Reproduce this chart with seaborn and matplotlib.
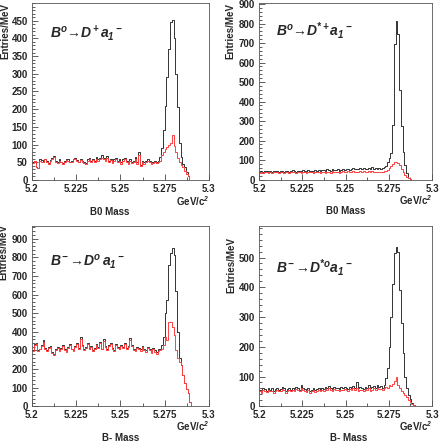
import numpy as np
import pandas as pd
import seaborn as sns
import matplotlib.pyplot as plt
from matplotlib.ticker import MultipleLocator, FixedLocator

# bins: 100 bins of 1 MeV from 5.200 to 5.300 GeV/c^2
bin_lo = 5.2
bin_hi = 5.3
n_bins = 100

# B0 -> D+ a1-
d_plus_all = [50, 55, 36, 34, 58, 56, 52, 60, 55, 48,
              57, 62, 68, 55, 50, 58, 52, 47, 55, 60,
              58, 52, 55, 60, 63, 57, 52, 60, 55, 50,
              48, 58, 62, 55, 60, 53, 65, 58, 62, 70,
              62, 58, 68, 55, 60, 52, 58, 62, 55, 60,
              50, 58, 62, 55, 48, 60, 52, 55, 65, 50,
              78, 42, 55, 50, 55, 60, 55, 50, 52, 55,
              52, 55, 65, 90, 140, 210, 290, 370, 445, 452,
              400, 300, 205, 105, 66, 45, 38, 22, 12, 0,
              0, 0, 0, 0, 0, 0, 0, 0, 0, 0]
d_plus_sel = [48, 55, 36, 34, 55, 52, 50, 58, 52, 45,
              55, 58, 65, 52, 48, 55, 50, 45, 52, 56,
              55, 50, 52, 58, 60, 55, 50, 57, 52, 48,
              45, 55, 58, 52, 56, 50, 60, 55, 58, 63,
              58, 55, 62, 52, 56, 48, 55, 58, 52, 55,
              46, 54, 58, 52, 45, 55, 48, 50, 58, 45,
              70, 40, 50, 46, 50, 55, 50, 46, 48, 50,
              48, 50, 55, 70, 80, 88, 94, 99, 105, 127,
              95, 80, 62, 52, 42, 36, 26, 18, 10, 0,
              0, 0, 0, 0, 0, 0, 0, 0, 0, 0]

# B0 -> D*+ a1-
dst_plus_all = [42, 45, 38, 44, 46, 40, 43, 38, 45, 42,
                46, 40, 44, 42, 38, 46, 42, 40, 45, 47,
                42, 40, 46, 44, 42, 48, 44, 42, 47, 44,
                46, 43, 50, 45, 48, 42, 50, 47, 45, 52,
                48, 45, 54, 50, 47, 52, 45, 50, 54, 48,
                52, 56, 50, 54, 58, 52, 56, 53, 58, 52,
                58, 54, 56, 60, 54, 62, 56, 58, 54, 58,
                56, 60, 64, 70, 90, 110, 135, 280, 695, 815,
                745, 460, 272, 140, 75, 35, 10, 3, 0, 0,
                0, 0, 0, 0, 0, 0, 0, 0, 0, 0]
dst_plus_sel = [35, 38, 32, 38, 40, 35, 36, 33, 38, 36,
                40, 34, 38, 36, 32, 40, 36, 34, 38, 40,
                36, 34, 38, 37, 35, 40, 36, 35, 38, 36,
                38, 35, 40, 36, 38, 34, 40, 37, 35, 40,
                38, 35, 42, 38, 36, 40, 35, 38, 42, 37,
                40, 42, 37, 40, 44, 38, 41, 39, 43, 37,
                42, 38, 40, 43, 37, 44, 39, 41, 36, 40,
                38, 40, 42, 45, 50, 58, 68, 80, 88, 90,
                85, 75, 55, 38, 25, 15, 8, 3, 0, 0,
                0, 0, 0, 0, 0, 0, 0, 0, 0, 0]

# B- -> D0 a1-
d0_all = [300, 335, 340, 300, 310, 330, 355, 315, 300, 320,
          325, 290, 280, 310, 320, 300, 315, 330, 305, 295,
          320, 335, 310, 300, 325, 340, 315, 370, 330, 305,
          320, 340, 310, 325, 300, 315, 335, 320, 345, 310,
          360, 325, 305, 330, 340, 315, 300, 335, 320, 310,
          330, 320, 340, 315, 325, 365, 330, 310, 300, 320,
          315, 305, 325, 310, 300, 320, 310, 295, 315, 300,
          290, 305, 310, 330, 370, 500, 570, 760, 825, 850,
          810, 620, 400, 260, 220, 170, 125, 95, 70, 25,
          0, 0, 0, 0, 0, 0, 0, 0, 0, 0]
d0_sel = [295, 330, 335, 295, 305, 322, 345, 310, 295, 312,
          318, 285, 278, 302, 315, 295, 308, 322, 300, 290,
          312, 328, 305, 295, 318, 332, 310, 360, 322, 300,
          312, 332, 305, 318, 295, 310, 328, 312, 338, 305,
          350, 318, 300, 322, 332, 308, 295, 328, 312, 305,
          322, 312, 332, 308, 318, 355, 322, 302, 295, 312,
          308, 298, 318, 302, 292, 312, 302, 288, 305, 292,
          282, 295, 300, 310, 330, 370, 355, 450, 455, 425,
          385, 300, 260, 240, 220, 170, 125, 95, 70, 25,
          0, 0, 0, 0, 0, 0, 0, 0, 0, 0]

# B- -> D*0 a1-
dst0_all = [55, 50, 60, 58, 52, 62, 55, 60, 52, 58,
            62, 55, 58, 65, 60, 52, 58, 62, 55, 60,
            58, 65, 60, 55, 70, 62, 58, 55, 60, 52,
            56, 60, 55, 58, 62, 55, 60, 58, 65, 60,
            68, 62, 58, 65, 60, 62, 58, 64, 60, 66,
            62, 58, 65, 60, 68, 62, 80, 60, 65, 62,
            58, 66, 62, 70, 60, 65, 68, 62, 70, 65,
            68, 62, 72, 95, 130, 200, 300, 410, 515, 535,
            520, 390, 280, 180, 100, 60, 38, 25, 12, 5,
            0, 0, 0, 0, 0, 0, 0, 0, 0, 0]
dst0_sel = [50, 45, 55, 52, 48, 55, 50, 52, 46, 52,
            55, 50, 52, 58, 54, 46, 52, 55, 50, 54,
            52, 58, 54, 50, 62, 55, 52, 48, 54, 46,
            50, 54, 48, 52, 55, 50, 54, 52, 58, 54,
            60, 55, 52, 58, 54, 55, 52, 56, 54, 58,
            55, 52, 58, 54, 60, 55, 62, 52, 56, 54,
            52, 58, 55, 60, 52, 56, 60, 55, 62, 58,
            58, 55, 60, 65, 62, 70, 68, 75, 85, 100,
            72, 62, 52, 45, 38, 30, 22, 15, 8, 3,
            0, 0, 0, 0, 0, 0, 0, 0, 0, 0]

titles = [r"$\mathbf{B^o}$" + "\u2192" + r"$\mathbf{D^+a_1{}^-}$",
          r"$\mathbf{B^o}$" + "\u2192" + r"$\mathbf{D^{*+}a_1{}^-}$",
          r"$\mathbf{B^-}$" + "\u2192" + r"$\mathbf{D^o\,a_1{}^-}$",
          r"$\mathbf{B^-}$" + "\u2192" + r"$\mathbf{D^{*o}a_1{}^-}$"]
mass_labels = ["B0 Mass", "B0 Mass", "B- Mass", "B- Mass"]
x_ticks = [5.2, 5.225, 5.25, 5.275, 5.3]
x_tick_labels = ["5.2", "5.225", "5.25", "5.275", "5.3"]
y_tops = [500, 905, 968, 606]
y_steps = [50, 100, 100, 100]
y_label_max = [450, 900, 900, 500]

centers = bin_lo + (np.arange(n_bins) + 0.5) * (bin_hi - bin_lo) / n_bins

sns.set_style("ticks")
plt.rcParams['font.family'] = ['Liberation Sans', 'DejaVu Sans']
plt.rcParams['font.weight'] = 'bold'
plt.rcParams['mathtext.fontset'] = 'custom'
plt.rcParams['mathtext.bf'] = 'Liberation Sans:italic:bold'
plt.rcParams['mathtext.rm'] = 'Liberation Sans:italic:bold'
plt.rcParams['mathtext.it'] = 'Liberation Sans:italic:bold'

fig = plt.figure(figsize=(4.43, 4.45), dpi=100)
boxes = [[0.0722, 0.5955, 0.3995, 0.3978],
         [0.5847, 0.5966, 0.3905, 0.3966],
         [0.0722, 0.0870, 0.3995, 0.4052],
         [0.5847, 0.0870, 0.3905, 0.4052]]
series = [(d_plus_all, d_plus_sel), (dst_plus_all, dst_plus_sel),
          (d0_all, d0_sel), (dst0_all, dst0_sel)]
# text placement per panel (axes coords)
title_pos = [(0.10, 0.83), (0.098, 0.846), (0.10, 0.804), (0.098, 0.772)]
ylab_pos = [(-0.153, 1.0), (-0.168, 1.0), (-0.16, 1.01), (-0.162, 0.94)]
unit_y = [-0.119, -0.119, -0.112, -0.112]
mass_pos = [(0.44, -0.181), (0.50, -0.181), (0.50, -0.175), (0.52, -0.175)]

for i, box in enumerate(boxes):
    ax = fig.add_axes(box)
    all_vals, sel_vals = series[i]
    df = pd.DataFrame({"mass": centers, "all": all_vals, "sel": sel_vals})
    sns.histplot(data=df, x="mass", weights="all", bins=n_bins, binrange=(bin_lo, bin_hi),
                 element="step", fill=False, color="#333333", linewidth=0.7, ax=ax)
    sns.histplot(data=df, x="mass", weights="sel", bins=n_bins, binrange=(bin_lo, bin_hi),
                 element="step", fill=False, color="#ff4040", linewidth=0.7, ax=ax)
    ax.set_xlim(bin_lo, bin_hi)
    ax.set_ylim(0, y_tops[i])
    ax.set_xlabel("")
    ax.set_ylabel("")
    ax.xaxis.set_major_locator(FixedLocator(x_ticks))
    ax.set_xticklabels(x_tick_labels)
    ax.xaxis.set_minor_locator(MultipleLocator(0.0125))
    ax.yaxis.set_major_locator(FixedLocator(np.arange(0, y_label_max[i] + 1, y_steps[i])))
    ax.yaxis.set_minor_locator(MultipleLocator(y_steps[i] / 5))
    ax.tick_params(which="both", direction="in", labelsize=7, width=0.6, color="#444444")
    ax.tick_params(which="major", length=4, pad=3)
    ax.tick_params(which="minor", length=2)
    for lab in ax.get_xticklabels() + ax.get_yticklabels():
        lab.set_fontweight("bold")
    for sp in ax.spines.values():
        sp.set_linewidth(0.6)
        sp.set_color("#555555")
    ax.text(title_pos[i][0], title_pos[i][1], titles[i], transform=ax.transAxes,
            fontsize=10, fontweight="bold", va="center", ha="left")
    ax.text(ylab_pos[i][0], ylab_pos[i][1], "Entries/MeV", transform=ax.transAxes,
            rotation=90, fontsize=7, fontweight="bold", va="top", ha="center")
    ax.text(1.0, unit_y[i], r"GeV/c$^{\mathrm{2}}$", transform=ax.transAxes,
            fontsize=7, fontweight="bold", va="center", ha="right")
    ax.text(mass_pos[i][0], mass_pos[i][1], mass_labels[i], transform=ax.transAxes,
            fontsize=7, fontweight="bold", va="center", ha="center")

fig.savefig("out.png", dpi=100)
